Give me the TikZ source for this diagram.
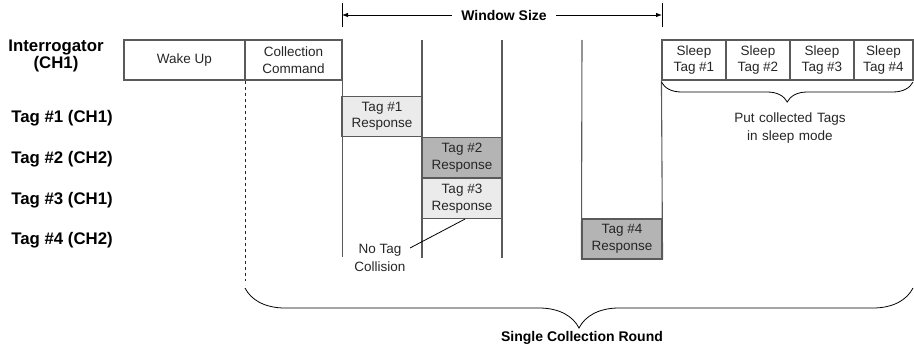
\documentclass[tikz,border=0pt]{standalone}
\usepackage{fontspec}
\setmainfont{Liberation Sans}
\usetikzlibrary{arrows.meta, decorations.pathreplacing, positioning}

\definecolor{lineg}{HTML}{5A5A5A}
\definecolor{lightfill}{HTML}{EBEBEB}
\definecolor{darkfill}{HTML}{B4B4B4}

\tikzset{
  slot/.style={draw=lineg, line width=1.1pt, inner sep=0pt, minimum height=40pt, align=center, text=black!85, font=\fontsize{13.5}{16.5}\selectfont},
  rowlabel/.style={font=\fontsize{16.8}{17}\selectfont\bfseries, align=center},
  vline/.style={draw=lineg, line width=1.1pt},
  note/.style={align=center, text=black!85, font=\fontsize{13.5}{18.5}\selectfont},
}

\begin{document}
\begin{tikzpicture}[x=1pt, y=-1pt]
    \useasboundingbox (0,0) rectangle (914,348);

    % row labels
    \node[rowlabel] (lint) at (56,56) {Interrogator\\(CH1)};
    \node[rowlabel] (ltagone) at (62,118) {Tag \#1 (CH1)};
    \node[rowlabel] (ltagtwo) at (62,159) {Tag \#2 (CH2)};
    \node[rowlabel] (ltagthree) at (62,200) {Tag \#3 (CH1)};
    \node[rowlabel] (ltagfour) at (62,240) {Tag \#4 (CH2)};

    % interrogator slots
    \node[slot, minimum width=121pt] (wake) at (184.5,60) {Wake Up};
    \node[slot, minimum width=97pt] (cmd) at (293.5,60) {Collection\\Command};
    \foreach \i/\x/\w in {1/694/64, 2/758/64, 3/822/64, 4/883.5/59}
        \node[slot, minimum width=\w pt] (sleep\i) at (\x,60) {Sleep\\Tag \#\i};

    % tag responses
    \node[slot, minimum width=80pt, fill=lightfill] (tagone) at (382,116.5) {Tag \#1\\Response};
    \node[slot, minimum width=80pt, fill=darkfill] (tagtwo) at (462,157.5) {Tag \#2\\Response};
    \node[slot, minimum width=80pt, fill=lightfill] (tagthree) at (462,198.5) {Tag \#3\\Response};
    \node[slot, minimum width=80pt, fill=darkfill] (tagfour) at (622,239) {Tag \#4\\Response};

    % slot borders of the window
    \draw[vline] (cmd.north east) -- ++(0,218);
    \draw[vline] (422,40) -- (422,258);
    \draw[vline] (502,40) -- (502,258);
    \draw[vline] (582,40) -- (tagfour.south west);
    \draw[vline] (sleep1.south west) -- (tagfour.south east);
    \draw[line width=1.4pt, black!85, dash pattern=on 3.5pt off 2.5pt] (wake.south east) -- ++(0,200);
    \coordinate (roundstart) at (245,288);

    % window size
    \node[font=\fontsize{14}{16}\selectfont\bfseries, inner xsep=9pt] (wsize) at (504,15) {Window Size};
    \coordinate (wleft) at (342,15);
    \coordinate (wright) at (662,15);
    \draw[line width=0.8pt] (342,3) -- (342,27);
    \draw[line width=0.8pt] (662,3) -- (662,27);
    \draw[line width=0.8pt, -{Latex[length=6pt, width=4.5pt]}] (wsize.west) -- (wleft);
    \draw[line width=0.8pt, -{Latex[length=6pt, width=4.5pt]}] (wsize.east) -- (wright);

    % sleep brace
    \coordinate (sleepend) at (913,82);
    \draw[line width=0.8pt, decorate, decoration={brace, mirror, amplitude=20pt}] (sleep1.south west |- sleepend) -- (sleepend);
    \node[note, text width=140pt] (sleeptxt) at (790,128) {Put collected Tags\\in sleep mode};

    % no collision
    \node[note] (nocoll) at (380,258) {No Tag\\Collision};
    \draw[line width=0.8pt] (410,248) -- ([xshift=3pt]tagthree.south);

    % collection round
    \coordinate (roundend) at (913,288);
    \draw[line width=0.8pt, decorate, decoration={brace, mirror, amplitude=40pt}] (roundstart) -- (roundend);
    \node[font=\fontsize{14}{16}\selectfont\bfseries] (round) at (582,338) {Single Collection Round};
\end{tikzpicture}
\end{document}
